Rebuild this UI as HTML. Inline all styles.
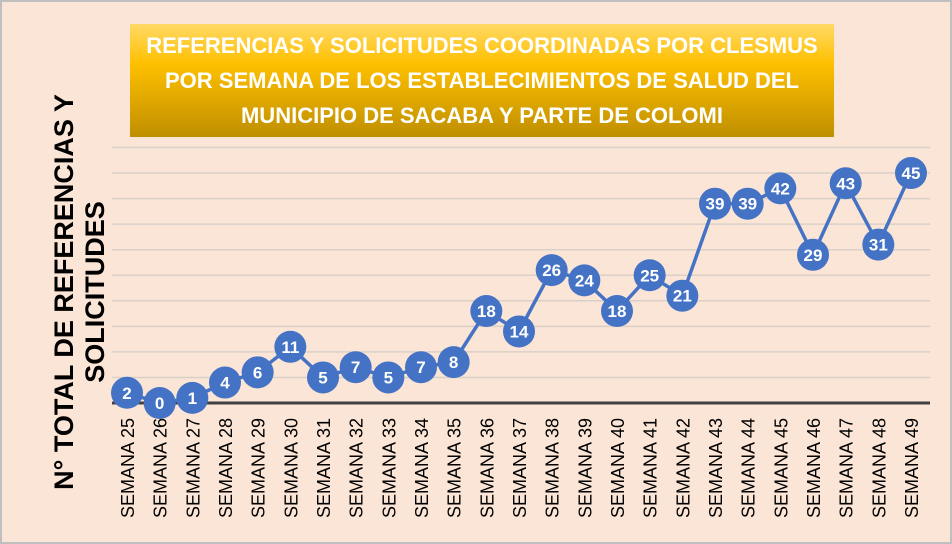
<!DOCTYPE html>
<html><head><meta charset="utf-8"><style>
html,body{margin:0;padding:0;background:#fff}
#c{position:relative;width:952px;height:544px;background:#fbe5d6;box-sizing:border-box;border:2px solid #bfbfbf;overflow:hidden;font-family:"Liberation Sans",sans-serif}
#title{position:absolute;left:128px;top:22px;width:704px;height:113px;background:linear-gradient(#ffd966,#ffc000 35%,#bf8f00);color:#fff;font-weight:bold;font-size:22px;line-height:35px;text-align:center;padding-top:4px;box-sizing:border-box;white-space:nowrap}
#ytitle{position:absolute;left:78px;top:290px;transform:translate(-50%,-50%) rotate(-90deg);white-space:nowrap;font-weight:bold;font-size:27px;line-height:31px;text-align:center;color:#000}
</style></head><body>
<div id="c">
<div id="title">REFERENCIAS Y SOLICITUDES COORDINADAS POR CLESMUS<br>POR SEMANA DE LOS ESTABLECIMIENTOS DE SALUD DEL<br>MUNICIPIO DE SACABA Y PARTE DE COLOMI</div>
<div id="ytitle">N° TOTAL DE REFERENCIAS Y<br>SOLICITUDES</div>
<svg id="svg" width="952" height="544" style="position:absolute;left:-2px;top:-2px"></svg>
</div>
<script>
const categories=["SEMANA 25","SEMANA 26","SEMANA 27","SEMANA 28","SEMANA 29","SEMANA 30","SEMANA 31","SEMANA 32","SEMANA 33","SEMANA 34","SEMANA 35","SEMANA 36","SEMANA 37","SEMANA 38","SEMANA 39","SEMANA 40","SEMANA 41","SEMANA 42","SEMANA 43","SEMANA 44","SEMANA 45","SEMANA 46","SEMANA 47","SEMANA 48","SEMANA 49"];
const values=[2,0,1,4,6,11,5,7,5,7,8,18,14,26,24,18,25,21,39,39,42,29,43,31,45];
const gridTicks=[5,10,15,20,25,30,35,40,45,50];
const NS="http://www.w3.org/2000/svg";
const svg=document.getElementById('svg');
const x=i=>127+i*(911-127)/(categories.length-1);
const y=v=>403-v*5.11;
function mk(t,a){const e=document.createElementNS(NS,t);for(const k in a)e.setAttribute(k,a[k]);svg.appendChild(e);return e;}
gridTicks.forEach(v=>{const g=mk('line',{x1:112,x2:930,y1:y(v),y2:y(v),stroke:'#d9d0c8','stroke-width':1.5});

});
const ax=mk('line',{x1:112,x2:930,y1:403,y2:403,stroke:'#404040','stroke-width':3});


const pl=mk('polyline',{points:values.map((v,i)=>x(i)+','+y(v)).join(' '),fill:'none',stroke:'#4472c4','stroke-width':3.5});


categories.forEach((c,i)=>{const t=mk('text',{transform:`translate(${x(i)+7},418) rotate(-90)`,'text-anchor':'end','font-size':18,fill:'#000','font-family':'Liberation Sans, sans-serif'});t.textContent=c;

});
values.forEach((v,i)=>{const m=mk('circle',{cx:x(i),cy:y(v),r:16,fill:'#4472c4'});


const t=mk('text',{x:x(i),y:y(v)+6,'text-anchor':'middle','font-size':17,'font-weight':'bold',fill:'#fff','font-family':'Liberation Sans, sans-serif'});t.textContent=v;

});
</script>
</body></html>
